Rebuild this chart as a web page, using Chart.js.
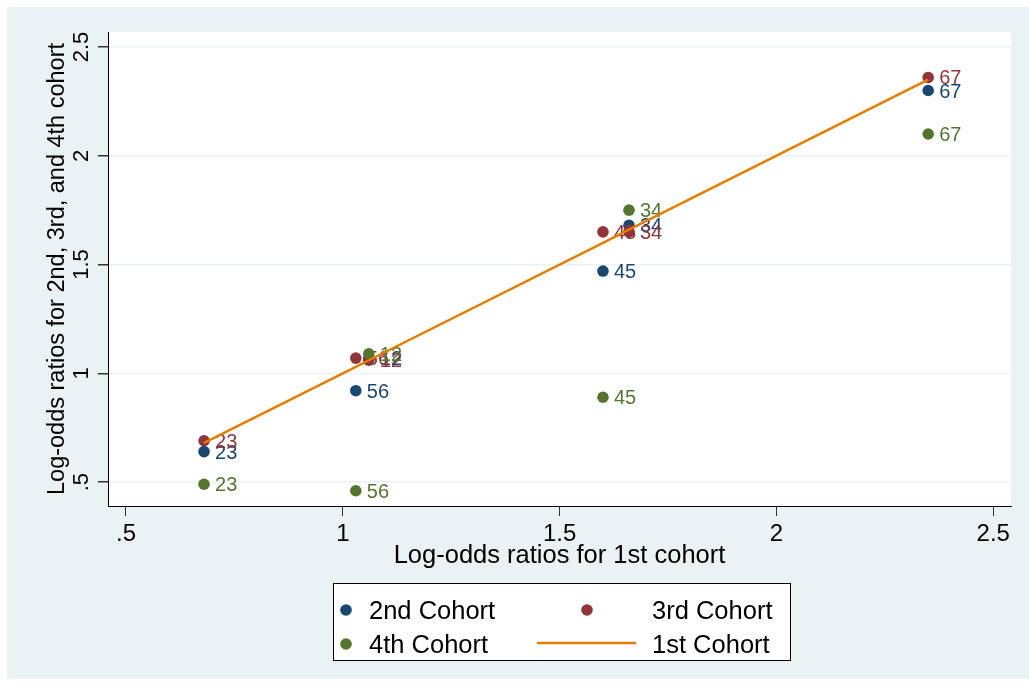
<!DOCTYPE html>
<html>
<head>
<meta charset="utf-8">
<title>Log-odds ratios by cohort</title>
<script src="https://cdn.jsdelivr.net/npm/chart.js"></script>
<style>
  html, body { margin: 0; padding: 0; background: #fff; }
  #wrap { width: 1029px; height: 688px; }
</style>
</head>
<body>
<div id="wrap"><canvas id="myChart" width="1029" height="688"></canvas></div>

<script>
    // cohort pair shown next to each point
    var pairs = ['23', '56', '12', '45', '34', '67'];
    // log-odds ratios, 1st cohort is the x axis
    var cohort1 = [0.68, 1.03, 1.06, 1.60, 1.66, 2.35];
    var cohort2 = [0.64, 0.92, 1.07, 1.47, 1.68, 2.30];
    var cohort3 = [0.69, 1.07, 1.06, 1.65, 1.65, 2.36];
    var cohort4 = [0.49, 0.46, 1.09, 0.89, 1.75, 2.10];
    // axis ticks
    var xTicks = [0.5, 1, 1.5, 2, 2.5];
    var yTicks = [0.5, 1, 1.5, 2, 2.5];
    var tickLabels = ['.5', '1', '1.5', '2', '2.5'];

    var navy = '#1a476f', maroon = '#90353b', green = '#55752f', orange = '#e37e00';
    var bg = '#eaf2f3';
    var fontFamily = '"Liberation Sans", Arial, sans-serif';

    function points(ys) {
        return cohort1.map(function (x, i) { return { x: x, y: ys[i] }; });
    }

    function scatterSet(label, ys, color, order) {
        return {
            label: label,
            data: points(ys),
            pointLabels: pairs,
            backgroundColor: color,
            borderColor: color,
            pointRadius: 5.8,
            pointBorderWidth: 0,
            order: order
        };
    }

    // background: white frame, bluish graph region, white plot region
    var background = {
        id: 'background',
        beforeDraw: function (chart) {
            var ctx = chart.ctx, a = chart.chartArea;
            ctx.save();
            ctx.fillStyle = '#fff';
            ctx.fillRect(0, 0, chart.width, chart.height);
            ctx.fillStyle = bg;
            ctx.fillRect(7, 7, chart.width - 7, chart.height - 16);
            ctx.fillStyle = '#fff';
            ctx.fillRect(a.left, a.top, a.right - a.left, a.bottom - a.top);
            ctx.restore();
        }
    };

    // pair labels to the right of the markers
    var pointLabels = {
        id: 'pointLabels',
        afterDatasetDraw: function (chart, args) {
            var ds = chart.data.datasets[args.index];
            if (!ds.pointLabels) return;
            var ctx = chart.ctx;
            ctx.save();
            ctx.font = '20px ' + fontFamily;
            ctx.fillStyle = ds.backgroundColor;
            ctx.textAlign = 'left';
            ctx.textBaseline = 'alphabetic';
            args.meta.data.forEach(function (pt, i) {
                ctx.fillText(ds.pointLabels[i], pt.x + 11, pt.y + 7);
            });
            ctx.restore();
        }
    };

    // y tick labels are rotated like in Stata
    var yTickLabels = {
        id: 'yTickLabels',
        afterDraw: function (chart) {
            var ctx = chart.ctx, y = chart.scales.y;
            ctx.save();
            ctx.font = '22px ' + fontFamily;
            ctx.fillStyle = '#000';
            ctx.textAlign = 'center';
            ctx.textBaseline = 'alphabetic';
            yTicks.forEach(function (v, i) {
                ctx.save();
                ctx.translate(y.right - 20, y.getPixelForValue(v));
                ctx.rotate(-Math.PI / 2);
                ctx.fillText(tickLabels[i], 0, 0);
                ctx.restore();
            });
            ctx.restore();
        }
    };

    // boxed legend, two columns
    var boxLegend = {
        id: 'boxLegend',
        afterDraw: function (chart) {
            var ctx = chart.ctx, sets = chart.data.datasets;
            var slots = [
                { ds: 0, sx: 346, tx: 369, y: 610 },
                { ds: 1, sx: 587, tx: 652, y: 610 },
                { ds: 2, sx: 346, tx: 369, y: 644 },
                { ds: 3, sx: 587, tx: 652, y: 644 }
            ];
            ctx.save();
            ctx.fillStyle = '#fff';
            ctx.fillRect(333, 583, 457, 77);
            ctx.strokeStyle = '#000';
            ctx.lineWidth = 1;
            ctx.strokeRect(333.5, 583.5, 457, 77);
            ctx.font = '25.5px ' + fontFamily;
            ctx.textBaseline = 'alphabetic';
            ctx.textAlign = 'left';
            slots.forEach(function (s) {
                var d = sets[s.ds];
                if (d.showLine) {
                    ctx.strokeStyle = d.borderColor;
                    ctx.lineWidth = d.borderWidth;
                    ctx.beginPath();
                    ctx.moveTo(537, s.y - 1);
                    ctx.lineTo(636, s.y - 1);
                    ctx.stroke();
                } else {
                    ctx.fillStyle = d.backgroundColor;
                    ctx.beginPath();
                    ctx.arc(s.sx, s.y, 5.8, 0, Math.PI * 2);
                    ctx.fill();
                }
                ctx.fillStyle = '#000';
                ctx.fillText(d.label, s.tx, s.y + 9);
            });
            ctx.restore();
        }
    };

    var ctx = document.getElementById('myChart').getContext('2d');
    var myChart = new Chart(ctx, {
        type: 'scatter',
        data: {
            datasets: [
                scatterSet('2nd Cohort', cohort2, navy, 3),
                scatterSet('3rd Cohort', cohort3, maroon, 2),
                scatterSet('4th Cohort', cohort4, green, 1),
                {
                    label: '1st Cohort',
                    data: points(cohort1),
                    showLine: true,
                    borderColor: orange,
                    backgroundColor: orange,
                    borderWidth: 2.5,
                    pointRadius: 0,
                    fill: false,
                    order: 0
                }
            ]
        },
        options: {
            responsive: false,
            animation: false,
            devicePixelRatio: 1,
            layout: { padding: { left: 7, top: 32, right: 18, bottom: 112 } },
            plugins: {
                legend: { display: false },
                tooltip: { enabled: false }
            },
            scales: {
                x: {
                    type: 'linear',
                    min: 0.4585,
                    max: 2.541,
                    afterBuildTicks: function (s) {
                        s.ticks = xTicks.map(function (v) { return { value: v }; });
                    },
                    afterFit: function (s) { s.height = 70; },
                    grid: { drawOnChartArea: false, tickLength: 10, tickColor: '#333' },
                    border: { color: '#000', width: 1 },
                    ticks: {
                        padding: 4,
                        maxRotation: 0,
                        color: '#000',
                        font: { family: fontFamily, size: 24 },
                        callback: function (v) { return tickLabels[xTicks.indexOf(v)]; }
                    },
                    title: {
                        display: true,
                        text: 'Log-odds ratios for 1st cohort',
                        color: '#000',
                        font: { family: fontFamily, size: 25.5 },
                        padding: { top: 0, bottom: 5 }
                    }
                },
                y: {
                    type: 'linear',
                    min: 0.39,
                    max: 2.569,
                    afterBuildTicks: function (s) {
                        s.ticks = yTicks.map(function (v) { return { value: v }; });
                    },
                    afterFit: function (s) { s.width = 101; },
                    grid: { color: bg, lineWidth: 1.5, tickLength: 10, tickColor: '#333' },
                    border: { color: '#000', width: 1 },
                    ticks: { display: false },
                    title: {
                        display: true,
                        text: 'Log-odds ratios for 2nd, 3rd, and 4th cohort',
                        color: '#000',
                        font: { family: fontFamily, size: 23.5 },
                        padding: { top: 36, bottom: 0 }
                    }
                }
            }
        },
        plugins: [background, pointLabels, yTickLabels, boxLegend]
    });
</script>
</body>
</html>
